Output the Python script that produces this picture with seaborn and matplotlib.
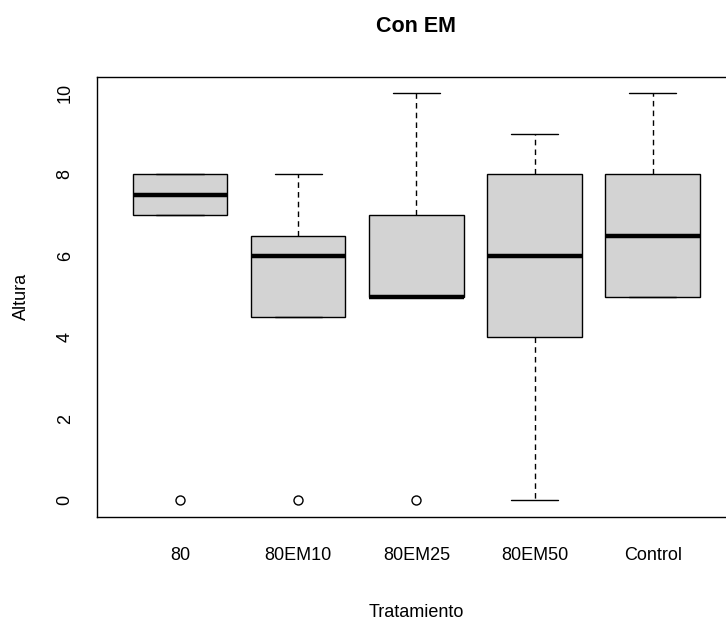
# boxplot de altura por tratamiento (con EM)

import pandas as pd
import matplotlib
matplotlib.use("Agg")
import matplotlib.pyplot as plt
import seaborn as sns

# datos
tratamientos = ['80', '80EM10', '80EM25', '80EM50', 'Control']
altura_80 = [0, 7, 7, 7, 8, 8, 8, 8]
altura_80em10 = [0, 4.5, 4.5, 6, 6, 6.5, 6.5, 8]
altura_80em25 = [0, 5, 5, 5, 5, 7, 7, 10]
altura_80em50 = [0, 4, 4, 6, 6, 8, 8, 9]
altura_control = [5, 5, 5, 6, 7, 8, 8, 10]

valores = [altura_80, altura_80em10, altura_80em25, altura_80em50, altura_control]
df = pd.DataFrame({
    'Tratamiento': [t for t, v in zip(tratamientos, valores) for _ in v],
    'Altura': [x for v in valores for x in v],
})

sns.set_style("white")
plt.rcParams['font.family'] = ['Liberation Sans', 'DejaVu Sans']
plt.rcParams['text.color'] = 'black'
plt.rcParams['axes.labelcolor'] = 'black'
plt.rcParams['xtick.color'] = 'black'
plt.rcParams['ytick.color'] = 'black'

fig = plt.figure(figsize=(7.26, 6.29), dpi=100)
ax = fig.add_axes([0.134, 0.1785, 0.879, 0.6996])

sns.boxplot(data=df, x='Tratamiento', y='Altura', order=tratamientos,
            color='#d3d3d3', saturation=1, width=0.8, linecolor='black',
            linewidth=1, ax=ax,
            whiskerprops=dict(linestyle=(0, (4, 3))),
            medianprops=dict(linewidth=3.2, color='black'),
            flierprops=dict(marker='o', markerfacecolor='none',
                            markeredgecolor='black', markersize=6.5,
                            markeredgewidth=1))

ax.set_xlim(-0.7, 4.7)
ax.set_ylim(-0.4, 10.4)
ax.set_yticks([0, 2, 4, 6, 8, 10])

for s in ax.spines.values():
    s.set_visible(True)
    s.set_color('black')
    s.set_linewidth(1)

ax.tick_params(axis='both', length=10, width=1, colors='black', labelsize=13, direction='out')
ax.tick_params(axis='x', pad=12)
ax.tick_params(axis='y', pad=7, labelrotation=90)
for lbl in ax.get_yticklabels():
    lbl.set_verticalalignment('center')

ax.set_title('Con EM', fontsize=15.5, fontweight='bold', pad=32, color='black')
ax.set_xlabel('Tratamiento', fontsize=13)
ax.set_ylabel('Altura', fontsize=13)
ax.xaxis.set_label_coords(0.5, -0.198)
ax.yaxis.set_label_coords(-0.105, 0.5)

fig.savefig('out.png', dpi=100)
